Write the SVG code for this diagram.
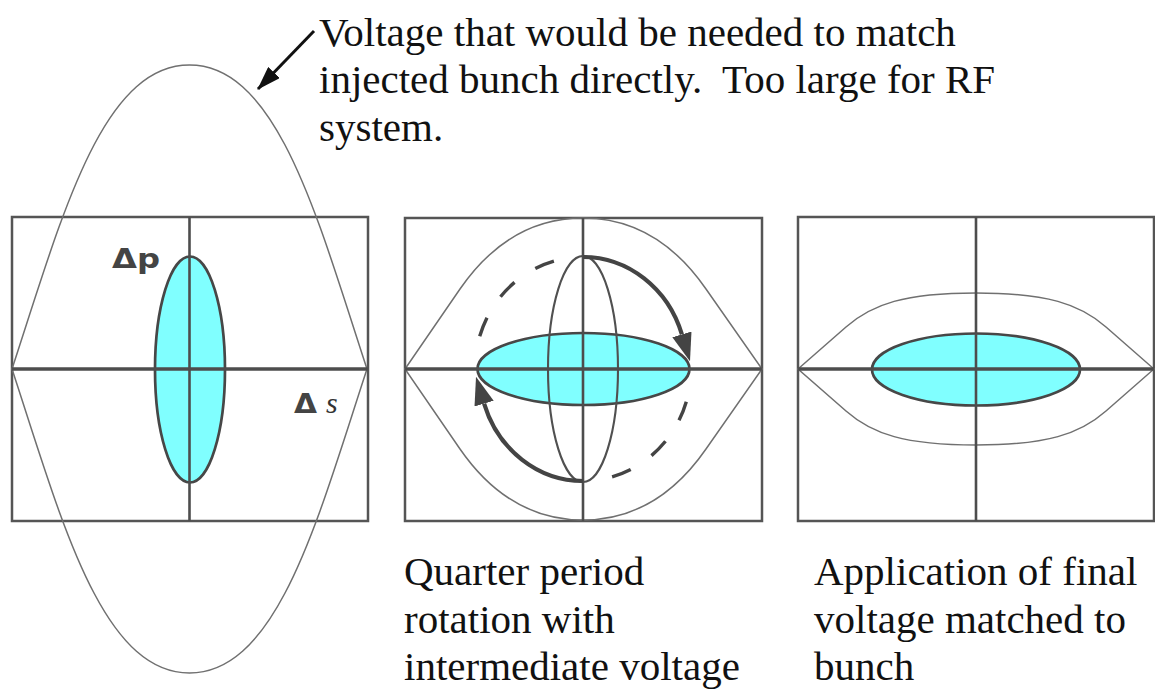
<svg xmlns="http://www.w3.org/2000/svg" width="1155" height="691" viewBox="0 0 1155 691">
<style>
.frame{fill:none;stroke:#555;stroke-width:2.5}
.axis{fill:none;stroke:#4d4d4d;stroke-width:2.6}
.haxis{fill:none;stroke:#4d4d4d;stroke-width:3.6}
.sep{fill:none;stroke:#707070;stroke-width:1.5}
.bunch{fill:#80ffff;stroke:#474747;stroke-width:2.7}
.outline{fill:none;stroke:#505050;stroke-width:2.1}
.dash{fill:none;stroke:#444;stroke-width:3.4;stroke-dasharray:20 25}
.rot{fill:none;stroke:#444;stroke-width:4.2}
.cap{font-family:"Liberation Serif","Times New Roman",serif;font-size:41px;fill:#111}
.lbl{font-family:"DejaVu Sans",sans-serif;font-weight:bold;font-size:26px;fill:#444}
.ital{font-family:"Liberation Serif",serif;font-style:italic;font-weight:normal;font-size:30px;fill:#333}
</style>
<defs>
<marker id="arrowTop" viewBox="0 0 24 16" refX="23" refY="8" markerWidth="24" markerHeight="16" markerUnits="userSpaceOnUse" orient="auto">
<path d="M0,0 L24,8 L0,16 Z" fill="#111"/>
</marker>
<marker id="arrowRot" viewBox="0 0 28 20" refX="0" refY="10" markerWidth="28" markerHeight="20" markerUnits="userSpaceOnUse" orient="auto">
<path d="M0,0 L28,10 L0,20 Z" fill="#444"/>
</marker>
</defs>
<rect width="1155" height="691" fill="#fff"/>

<g id="panel1">
<rect class="frame" x="12" y="217" width="356" height="304"/>
<path class="sep" d="M12,369 C61,220 101,65 189.5,65 C278,65 318,220 367,369 C318,518 278,673 189.5,673 C101,673 61,518 12,369 Z"/>
<ellipse class="bunch" cx="190" cy="369.5" rx="35" ry="113"/>
<line class="haxis" x1="12" y1="369" x2="368" y2="369"/>
<line class="axis" x1="189.5" y1="217" x2="189.5" y2="521"/>
<text class="lbl" x="112" y="268" textLength="48" lengthAdjust="spacingAndGlyphs">Δp</text>
<text x="294" y="413"><tspan class="lbl" textLength="23" lengthAdjust="spacingAndGlyphs">Δ</tspan><tspan class="ital" dx="9">s</tspan></text>
</g>

<g id="panel2">
<rect class="frame" x="405" y="218" width="357" height="303"/>
<path class="sep" d="M405,369 L460,289 C487,250 525,218 583,218 C641,218 679,250 706,289 L762,369 L706,449 C679,488 641,520 583,520 C525,520 487,488 460,449 Z"/>
<path class="dash" d="M479.7,336.3 A108,112 0 0,1 558.7,259.9"/>
<path class="dash" d="M686.3,401.7 A108,112 0 0,1 607.3,478.1"/>
<ellipse class="bunch" cx="583.5" cy="369" rx="106" ry="36"/>
<ellipse class="outline" cx="583" cy="369" rx="35" ry="113"/>
<line class="haxis" x1="405" y1="369" x2="762" y2="369"/>
<line class="axis" x1="583" y1="218" x2="583" y2="521"/>
<path class="rot" d="M583,257 A104,112 0 0,1 681.9,334.4" marker-end="url(#arrowRot)"/>
<path class="rot" d="M583,481 A104,112 0 0,1 484.1,403.6" marker-end="url(#arrowRot)"/>
</g>

<g id="panel3">
<rect class="frame" x="798" y="217" width="356" height="304"/>
<path class="sep" d="M798,369 L846,327 C872,304 905,293 976,293 C1047,293 1080,304 1106,327 L1154,369 L1106,411 C1080,434 1047,445 976,445 C905,445 872,434 846,411 Z"/>
<ellipse class="bunch" cx="976" cy="369.5" rx="104" ry="36"/>
<line class="haxis" x1="798" y1="369" x2="1154" y2="369"/>
<line class="axis" x1="976" y1="217" x2="976" y2="521"/>
</g>

<g id="note">
<text class="cap" x="319" y="46">Voltage that would be needed to match</text>
<text class="cap" x="319" y="93">injected bunch directly.&#160; Too large for RF</text>
<text class="cap" x="319" y="141">system.</text>
</g>

<g id="caption2">
<text class="cap" x="404" y="585">Quarter period</text>
<text class="cap" x="404" y="633">rotation with</text>
<text class="cap" x="404" y="680">intermediate voltage</text>
</g>

<g id="caption3">
<text class="cap" x="814" y="585">Application of final</text>
<text class="cap" x="814" y="633">voltage matched to</text>
<text class="cap" x="814" y="680">bunch</text>
</g>

<g id="connectors">
<line x1="314" y1="31" x2="258" y2="89" stroke="#111" stroke-width="3" marker-end="url(#arrowTop)"/>
</g>
</svg>
